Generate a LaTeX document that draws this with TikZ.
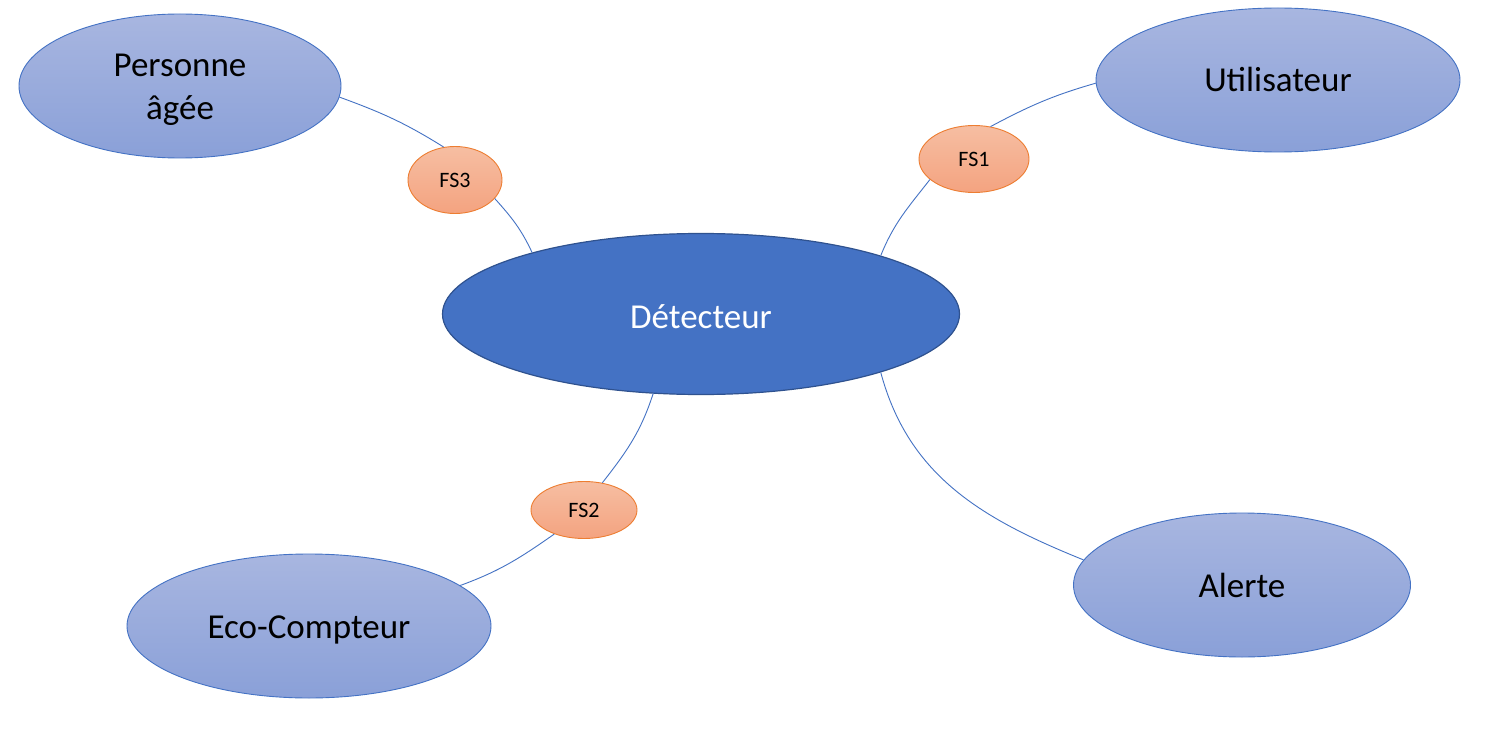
\documentclass[tikz,border=0pt]{standalone}
\usepackage{fontspec}
\setmainfont{Carlito}
\usetikzlibrary{shapes.geometric}
\definecolor{outtop}{HTML}{A8B6E0}
\definecolor{outbot}{HTML}{8AA0D8}
\definecolor{linkblue}{HTML}{4472C4}
\definecolor{cenfill}{HTML}{4472C4}
\definecolor{cenborder}{HTML}{2F528F}
\definecolor{fstop}{HTML}{F6BEA2}
\definecolor{fsbot}{HTML}{F4A380}
\definecolor{fsborder}{HTML}{ED7D31}
\tikzset{
  outer/.style={ellipse, draw=linkblue, line width=0.9pt, top color=outtop, bottom color=outbot,
    inner sep=0pt, font=\fontsize{35}{43}\selectfont, text=black},
  oneline/.style={text height=24pt, text depth=0pt},
  center/.style={ellipse, draw=cenborder, line width=1.2pt, fill=cenfill,
    inner sep=0pt, font=\fontsize{35}{43}\selectfont, text=white, text height=28pt, text depth=0pt},
  fs/.style={ellipse, draw=fsborder, line width=0.9pt, top color=fstop, bottom color=fsbot,
    inner sep=0pt, font=\fontsize{22}{26}\selectfont, text=black},
  link/.style={draw=linkblue, line width=0.9pt}
}
\begin{document}
\begin{tikzpicture}[x=1pt,y=-1pt]
\useasboundingbox[fill=white] (0,0) rectangle (1489,749);
% nodes
\node[center, minimum width=517pt, minimum height=161pt] (det) at (701,314) {Détecteur};
\node[outer, minimum width=322pt, minimum height=144pt] (pa) at (180,86)
  {\raisebox{-3pt}[\height][\depth]{\begin{tabular}{@{}c@{}}Personne\\âgée\end{tabular}}};
\node[outer, oneline, minimum width=364pt, minimum height=144pt] (ut) at (1278,80) {Utilisateur};
\node[outer, oneline, minimum width=364pt, minimum height=144pt] (eco) at (309,626) {Eco-Compteur};
\node[outer, oneline, minimum width=337pt, minimum height=144pt] (al) at (1242,585) {Alerte};
\node[fs, minimum width=94pt, minimum height=67pt] (fs3) at (455,180) {FS3};
\node[fs, minimum width=110pt, minimum height=67pt] (fs1) at (974,159) {FS1};
\node[fs, minimum width=106pt, minimum height=57pt] (fs2) at (584,510) {FS2};
% connectors
\draw[link] (pa.-4) to[out=-20, in=148] (fs3.109);
\draw[link] (fs3.-25) to[out=-48, in=115] (det.160);
\draw[link] (ut.181) to[out=196, in=28] (fs1.63);
\draw[link] (fs1.205) to[out=232, in=68] (det.18);
\draw[link] (det.-121) to[out=-108, in=52] (fs2.56);
\draw[link] (fs2.219) to[out=215, in=20] (eco.15);
\draw[link] (det.-18.6) to[out=-75, in=158] (al.171);
\end{tikzpicture}
\end{document}
